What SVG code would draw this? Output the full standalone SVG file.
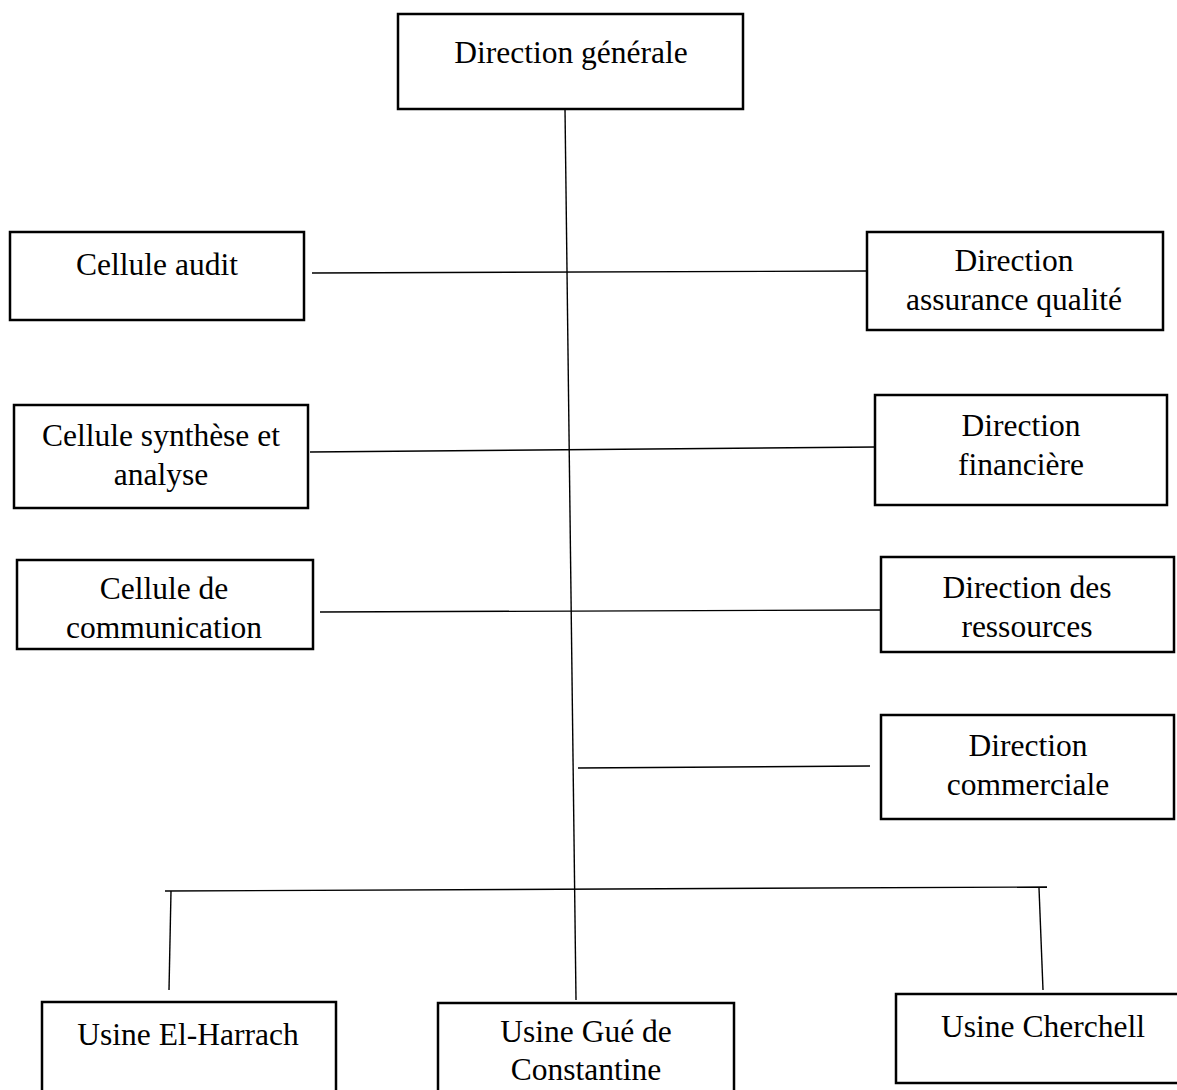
<svg xmlns="http://www.w3.org/2000/svg" width="1177" height="1090" viewBox="0 0 1177 1090">
  <style>
    .box { fill: #ffffff; stroke: #000000; stroke-width: 2.5; }
    .lbl { font-family: 'Liberation Serif', 'Times New Roman', 'DejaVu Serif', serif; font-size: 31.5px; fill: #000000; text-anchor: middle; }
    .link { stroke: #000000; stroke-width: 1.4; fill: none; }
  </style>
  <rect width="1177" height="1090" fill="#ffffff"/>

  <!-- connectors -->
  <g id="connectors">
    <line class="link" x1="565" y1="109" x2="576" y2="1000"/>
    <line class="link" x1="312" y1="273" x2="866" y2="271"/>
    <line class="link" x1="310" y1="452" x2="876" y2="447"/>
    <line class="link" x1="320" y1="612" x2="881" y2="610"/>
    <line class="link" x1="578" y1="768" x2="870" y2="766"/>
    <line class="link" x1="165" y1="891" x2="1047" y2="887"/>
    <line class="link" x1="171" y1="891" x2="169" y2="990"/>
    <line class="link" x1="1039" y1="888" x2="1043" y2="990"/>
  </g>

  <g id="direction-generale">
    <rect class="box" x="398" y="14" width="345" height="95"/>
    <text class="lbl" x="571" y="63" font-family="Liberation Serif, serif">Direction générale</text>
  </g>

  <g id="cellule-audit">
    <rect class="box" x="10" y="232" width="294" height="88"/>
    <text class="lbl" x="157" y="275" font-family="Liberation Serif, serif">Cellule audit</text>
  </g>

  <g id="direction-assurance-qualite">
    <rect class="box" x="867" y="232" width="296" height="98"/>
    <text class="lbl" x="1014" y="271" font-family="Liberation Serif, serif">Direction</text>
    <text class="lbl" x="1014" y="310" font-family="Liberation Serif, serif">assurance qualité</text>
  </g>

  <g id="cellule-synthese">
    <rect class="box" x="14" y="405" width="294" height="103"/>
    <text class="lbl" x="161" y="446" font-family="Liberation Serif, serif">Cellule synthèse et</text>
    <text class="lbl" x="161" y="485" font-family="Liberation Serif, serif">analyse</text>
  </g>

  <g id="direction-financiere">
    <rect class="box" x="875" y="395" width="292" height="110"/>
    <text class="lbl" x="1021" y="436" font-family="Liberation Serif, serif">Direction</text>
    <text class="lbl" x="1021" y="475" font-family="Liberation Serif, serif">financière</text>
  </g>

  <g id="cellule-communication">
    <rect class="box" x="17" y="560" width="296" height="89"/>
    <text class="lbl" x="164" y="599" font-family="Liberation Serif, serif">Cellule de</text>
    <text class="lbl" x="164" y="638" font-family="Liberation Serif, serif">communication</text>
  </g>

  <g id="direction-ressources">
    <rect class="box" x="881" y="557" width="293" height="95"/>
    <text class="lbl" x="1027" y="598" font-family="Liberation Serif, serif">Direction des</text>
    <text class="lbl" x="1027" y="637" font-family="Liberation Serif, serif">ressources</text>
  </g>

  <g id="direction-commerciale">
    <rect class="box" x="881" y="715" width="293" height="104"/>
    <text class="lbl" x="1028" y="756" font-family="Liberation Serif, serif">Direction</text>
    <text class="lbl" x="1028" y="795" font-family="Liberation Serif, serif">commerciale</text>
  </g>

  <g id="usine-el-harrach">
    <rect class="box" x="42" y="1002" width="294" height="100"/>
    <text class="lbl" x="188" y="1045" font-family="Liberation Serif, serif">Usine El-Harrach</text>
  </g>

  <g id="usine-gue-de-constantine">
    <rect class="box" x="438" y="1003" width="296" height="100"/>
    <text class="lbl" x="586" y="1042" font-family="Liberation Serif, serif">Usine Gué de</text>
    <text class="lbl" x="586" y="1080" font-family="Liberation Serif, serif">Constantine</text>
  </g>

  <g id="usine-cherchell">
    <rect class="box" x="896" y="994" width="300" height="89"/>
    <text class="lbl" x="1043" y="1037" font-family="Liberation Serif, serif">Usine Cherchell</text>
  </g>
</svg>
